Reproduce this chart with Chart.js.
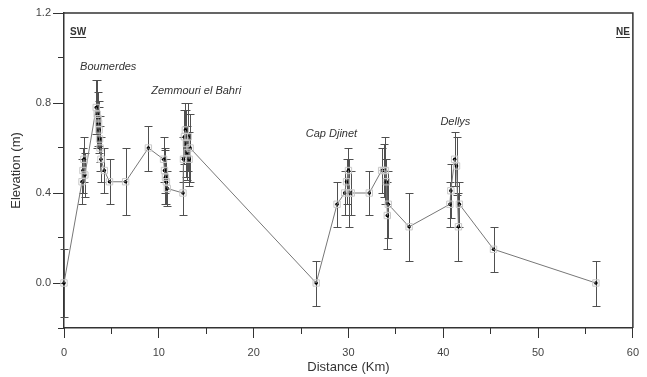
<!DOCTYPE html>
<html><head><meta charset="utf-8">
<script src="https://cdn.jsdelivr.net/npm/chart.js@4"></script>
<style>html,body{margin:0;padding:0;background:#fff;}canvas{display:block;}</style>
</head><body>
<canvas id="c" width="647" height="377"></canvas>
<script>
// ---- data ----
const distanceKm = [0, 1.9, 2.0, 2.1, 2.2, 3.4, 3.5, 3.6, 3.65, 3.7, 3.75, 3.8, 3.9, 4.25, 4.8, 6.5, 8.9,
  10.5, 10.6, 10.7, 10.8, 10.9, 12.55, 12.6, 12.7, 12.8, 12.9, 13.0, 13.1, 13.2, 13.3,
  26.6, 28.8, 29.6, 29.8, 30.0, 30.1, 30.3, 32.2, 33.5, 33.7, 33.9, 34.0, 34.1, 34.2,
  36.4, 40.7, 40.8, 41.2, 41.4, 41.6, 41.7, 45.3, 56.1];
const elevationM = [0, 0.45, 0.50, 0.55, 0.48, 0.78, 0.75, 0.73, 0.71, 0.68, 0.64, 0.60, 0.55, 0.50, 0.45, 0.45, 0.60,
  0.55, 0.50, 0.47, 0.45, 0.42, 0.40, 0.55, 0.65, 0.68, 0.62, 0.58, 0.65, 0.55, 0.60,
  0.0, 0.35, 0.40, 0.45, 0.50, 0.40, 0.40, 0.40, 0.50, 0.50, 0.50, 0.45, 0.30, 0.35,
  0.25, 0.35, 0.41, 0.55, 0.52, 0.25, 0.35, 0.15, 0.0];
const errorM = [0.15, 0.1, 0.1, 0.1, 0.1, 0.12, 0.15, 0.12, 0.1, 0.1, 0.1, 0.1, 0.1, 0.1, 0.1, 0.15, 0.1,
  0.1, 0.1, 0.12, 0.1, 0.08, 0.1, 0.1, 0.12, 0.12, 0.15, 0.12, 0.15, 0.12, 0.15,
  0.1, 0.1, 0.1, 0.1, 0.1, 0.15, 0.1, 0.1, 0.1, 0.12, 0.15, 0.1, 0.15, 0.15,
  0.15, 0.1, 0.12, 0.12, 0.13, 0.15, 0.1, 0.1, 0.1];
const xMajorTicks = [0, 10, 20, 30, 40, 50, 60];
const xMinorTicks = [0, 5, 10, 15, 20, 25, 30, 35, 40, 45, 50, 55, 60];
const yMajorTicks = [0.0, 0.4, 0.8, 1.2];
const yMinorTicks = [-0.2, 0.0, 0.2, 0.4, 0.6, 0.8, 1.0, 1.2];
const siteLabels = ['Boumerdes', 'Zemmouri el Bahri', 'Cap Djinet', 'Dellys'];
const siteLabelKm = [1.7, 9.2, 25.5, 39.7];
const siteLabelElev = [0.96, 0.853, 0.662, 0.716];
const directionLabels = ['SW', 'NE'];

const points = distanceKm.map((d, i) => ({x: d, y: elevationM[i]}));
const FONT = '"Liberation Sans", Arial, sans-serif';
const AX = '#333';

const errorBars = {
  id: 'errorBars',
  beforeDatasetsDraw(chart) {
    const {ctx, scales: {x, y}} = chart;
    ctx.save();
    ctx.strokeStyle = '#505050';
    ctx.lineWidth = 1;
    distanceKm.forEach((d, i) => {
      const px = Math.round(x.getPixelForValue(d)) + 0.5;
      const t = Math.round(y.getPixelForValue(elevationM[i] + errorM[i])) + 0.5;
      const b = Math.round(y.getPixelForValue(elevationM[i] - errorM[i])) + 0.5;
      ctx.beginPath();
      ctx.moveTo(px, t); ctx.lineTo(px, b);
      ctx.moveTo(px - 4, t); ctx.lineTo(px + 4, t);
      ctx.moveTo(px - 4, b); ctx.lineTo(px + 4, b);
      ctx.stroke();
    });
    ctx.restore();
  }
};

const decorations = {
  id: 'decorations',
  afterDraw(chart) {
    const {ctx, chartArea: a, scales: {x, y}} = chart;
    ctx.save();
    ctx.strokeStyle = AX;
    ctx.lineWidth = 1.5;
    ctx.beginPath();
    ctx.moveTo(a.left, a.top); ctx.lineTo(a.right, a.top); ctx.lineTo(a.right, a.bottom);
    ctx.stroke();
    ctx.fillStyle = '#333';
    ctx.font = 'italic 11px ' + FONT;
    ctx.textBaseline = 'middle';
    ctx.textAlign = 'left';
    siteLabels.forEach((s, i) => {
      ctx.fillText(s, x.getPixelForValue(siteLabelKm[i]), y.getPixelForValue(siteLabelElev[i]));
    });
    ctx.font = 'bold 10px ' + FONT;
    ctx.lineWidth = 1;
    ctx.strokeStyle = '#333';
    const ty = a.top + 19;
    const drawU = (txt, xx, align) => {
      ctx.textAlign = align;
      ctx.fillText(txt, xx, ty);
      const w = ctx.measureText(txt).width;
      const x0 = align === 'left' ? xx : xx - w;
      ctx.beginPath();
      ctx.moveTo(x0, ty + 5.5); ctx.lineTo(x0 + w, ty + 5.5);
      ctx.stroke();
    };
    drawU(directionLabels[0], a.left + 6, 'left');
    drawU(directionLabels[1], a.right - 3, 'right');
    ctx.restore();
  }
};

new Chart(document.getElementById('c'), {
  type: 'scatter',
  data: {
    datasets: [{
      data: points,
      showLine: true,
      borderColor: '#777',
      borderWidth: 1,
      pointStyle: 'rect',
      pointRadius: 4.5,
      pointBorderColor: '#c8c8c8',
      pointBackgroundColor: 'rgba(0,0,0,0)',
      pointBorderWidth: 1,
      clip: false
    }, {
      data: points,
      showLine: false,
      pointRadius: 1.8,
      pointBackgroundColor: '#000',
      pointBorderColor: '#000',
      pointBorderWidth: 0,
      clip: false
    }]
  },
  options: {
    responsive: false,
    animation: false,
    devicePixelRatio: 1,
    layout: {padding: {top: 13, right: 13, left: 0, bottom: 0}},
    plugins: {legend: {display: false}, tooltip: {enabled: false}},
    scales: {
      x: {
        type: 'linear', position: 'bottom', min: 0, max: 60, weight: 0,
        afterBuildTicks: s => { s.ticks = xMajorTicks.map(v => ({value: v})); },
        afterFit: s => { s.height = 49; },
        grid: {drawOnChartArea: false, drawTicks: true, tickLength: 10, color: AX, lineWidth: 1},
        border: {display: true, color: AX, width: 1.5},
        ticks: {font: {family: FONT, size: 11}, color: '#444', padding: 8, maxRotation: 0,
          callback: v => String(v)},
        title: {display: true, text: 'Distance (Km)', font: {family: FONT, size: 13}, color: '#333',
          padding: {top: 0, bottom: 2}}
      },
      xMinor: {
        type: 'linear', position: 'bottom', min: 0, max: 60, weight: -10,
        afterBuildTicks: s => { s.ticks = xMinorTicks.map(v => ({value: v})); },
        afterFit: s => { s.height = 0; },
        grid: {drawOnChartArea: false, drawTicks: true, tickLength: 6, color: AX, lineWidth: 1},
        border: {display: false},
        ticks: {display: false}
      },
      y: {
        type: 'linear', position: 'left', min: -0.2, max: 1.2, weight: 0,
        afterBuildTicks: s => { s.ticks = yMajorTicks.map(v => ({value: v})); },
        afterFit: s => { s.width = 64; },
        grid: {drawOnChartArea: false, drawTicks: true, tickLength: 11, color: AX, lineWidth: 1},
        border: {display: true, color: AX, width: 1.5},
        ticks: {font: {family: FONT, size: 11}, color: '#444', padding: 2,
          callback: v => Number(v).toFixed(1)},
        title: {display: true, text: 'Elevation (m)', font: {family: FONT, size: 13}, color: '#333',
          padding: {top: 9, bottom: 0}}
      },
      yMinor: {
        type: 'linear', position: 'left', min: -0.2, max: 1.2, weight: -10,
        afterBuildTicks: s => { s.ticks = yMinorTicks.map(v => ({value: v})); },
        afterFit: s => { s.width = 0; },
        grid: {drawOnChartArea: false, drawTicks: true, tickLength: 6, color: AX, lineWidth: 1},
        border: {display: false},
        ticks: {display: false}
      }
    }
  },
  plugins: [errorBars, decorations]
});
</script>
</body></html>
